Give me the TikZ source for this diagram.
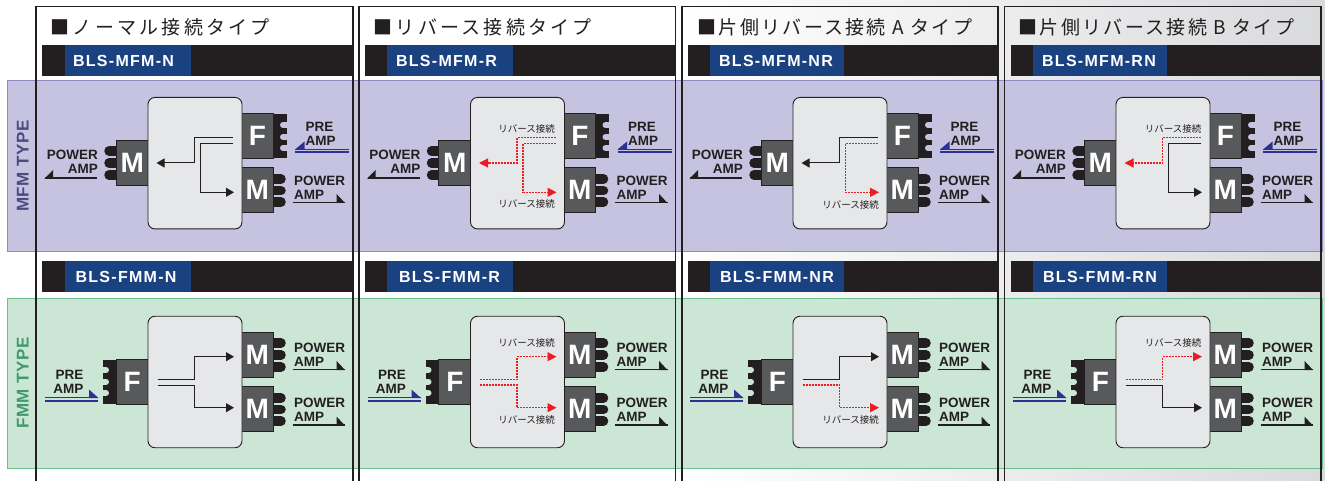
\documentclass[tikz,border=0pt]{standalone}
\usepackage{fontspec}
\setmainfont{Liberation Sans}
\newfontfamily\hdrA[LetterSpace=17]{Noto Sans CJK JP}
\newfontfamily\hdrB[LetterSpace=12]{Noto Sans CJK JP}
\newfontfamily\cjklab{Noto Sans CJK JP}
\newfontfamily\sidefont[LetterSpace=4]{Liberation Sans}
\newfontfamily\tagfont[LetterSpace=8]{Liberation Sans}
\usetikzlibrary{arrows.meta}
\definecolor{ink}{HTML}{231F20}
\definecolor{tagblue}{HTML}{1A4180}
\definecolor{purpleband}{HTML}{C6C3E1}
\definecolor{purpleedge}{HTML}{9089C3}
\definecolor{purpletext}{HTML}{4B4A82}
\definecolor{greenband}{HTML}{CBE6D5}
\definecolor{greenedge}{HTML}{6DBE8E}
\definecolor{greentext}{HTML}{3F9B6D}
\definecolor{portgrey}{HTML}{58595B}
\definecolor{bodygrey}{HTML}{E6E7E9}
\definecolor{revred}{HTML}{ED1C24}
\definecolor{preblue}{HTML}{2E3192}
\definecolor{shadeend}{HTML}{D9DADC}
\tikzset{
  bodybox/.style={draw=ink,fill=bodygrey,line width=0.9pt,rounded corners=7pt,minimum width=94pt,minimum height=131.5pt,inner sep=0pt},
  portbox/.style={draw=ink,fill=portgrey,line width=0.9pt,minimum width=32pt,minimum height=45pt,inner sep=0pt,text=white,font=\fontsize{28}{28}\selectfont\bfseries},
  amptext/.style={inner sep=0pt,text=ink,font=\fontsize{13.5}{13.5}\selectfont\bfseries},
  revlabel/.style={inner sep=0pt,anchor=east,text=ink,font=\cjklab\fontsize{9.5}{9.5}\selectfont},
  blackline/.style={draw=ink,line width=1pt,-{Triangle[length=8pt,width=9pt]}},
  redline/.style={draw=revred,line width=1.2pt,dash pattern=on 2pt off 1pt,-{Triangle[length=9pt,width=9pt,fill=revred]}},
  pill/.style={line width=9.5pt,line cap=round,draw=ink},
  notch/.style={line width=6pt,line cap=round},
  barbox/.style={fill=ink,draw=none,minimum height=31pt,inner sep=0pt,anchor=west},
  tagbox/.style={fill=tagblue,draw=none,minimum height=31pt,inner sep=0pt,text=white,font=\tagfont\fontsize{16}{16}\selectfont\bfseries},
  framebox/.style={draw=ink,line width=1.1pt},
  hdr/.style={inner sep=0pt,anchor=west,text=ink},
  sidetext/.style={inner sep=0pt,rotate=90,font=\sidefont\fontsize{17}{17}\selectfont\bfseries}
}
\newcommand{\ampright}[2]{% name, rule y
  \node[amptext,anchor=base west] (#1p) at (294,#2-17.3) {POWER};
  \node[amptext,anchor=base west] (#1a) at (294,#2-3.2) {AMP};
  \coordinate (#1l) at (292.5,#2);
  \coordinate (#1r) at (345,#2);
  \draw[ink,line width=1.3pt] (#1l) -- (#1r);
  \fill[ink] (345,#2+0.6) -- (336.5,#2+0.6) -- (336.5,#2-8.5) -- cycle;
}
\newcommand{\mfmunit}[6]{% prefix, x offset, upper line style, lower line style, upper label, lower label
\begin{scope}[xshift=#2pt]
  \foreach \yy in {151,163,175} {\draw[pill] (109,\yy) -- (116,\yy);}
  \foreach \yy in {179,190.7,202} {\draw[pill] (273,\yy) -- (281,\yy);}
  \fill[ink] (273,114) rectangle (286.7,158);
  \foreach \yy in {125,137,148} {\draw[notch,purpleband] (283,\yy) -- (288,\yy);}
  \fill[purpleband] (286.9,113) rectangle (291,159);
  \node[portbox] (#1ml) at (132.3,162.8) {M};
  \node[portbox] (#1f) at (257.3,135.8) {F};
  \node[portbox] (#1mr) at (257.3,190) {M};
  \node[bodybox] (#1b) at (195,163.2) {};
  \coordinate (#1s1) at (233,137.5);
  \coordinate (#1j1) at (194.5,137.5);
  \coordinate (#1k1) at (194.5,163);
  \coordinate (#1e1) at (156.5,163);
  \coordinate (#1s2) at (233,143.3);
  \coordinate (#1j2) at (200.5,143.3);
  \coordinate (#1k2) at (200.5,192.3);
  \coordinate (#1e2) at (234,192.3);
  \draw[#3] (#1s1) -- (#1j1) -- (#1k1) -- (#1e1);
  \draw[#4] (#1s2) -- (#1j2) -- (#1k2) -- (#1e2);
  #5 #6
  \node[amptext,anchor=base east] (#1pl) at (98,160) {POWER};
  \node[amptext,anchor=base east] (#1al) at (98,174) {AMP};
  \coordinate (#1ll) at (97,178);
  \coordinate (#1lr) at (45,178);
  \draw[ink,line width=1.3pt] (#1ll) -- (#1lr);
  \fill[ink] (44.5,178.6) -- (53,178.6) -- (53,170) -- cycle;
  \node[amptext,anchor=base west] (#1pp) at (305.5,132) {PRE};
  \node[amptext,anchor=base west] (#1ap) at (305.5,146) {AMP};
  \coordinate (#1pa) at (295,149);
  \coordinate (#1pb) at (349,149);
  \coordinate (#1pc) at (295,152);
  \coordinate (#1pd) at (349,152);
  \draw[preblue,line width=0.9pt] (#1pa) -- (#1pb);
  \draw[preblue,line width=1.6pt] (#1pc) -- (#1pd);
  \fill[preblue] (295,149.5) -- (304.5,149.5) -- (304.5,141.5) -- cycle;
  \ampright{#1x}{202.4}
\end{scope}}
\newcommand{\fmmunit}[6]{% prefix, x offset, upper line style, lower line style, upper label, lower label
\begin{scope}[xshift=#2pt]
  \foreach \yy in {343,355,367,398,409.5,421} {\draw[pill] (273,\yy) -- (281,\yy);}
  \fill[ink] (103,360) rectangle (116,404);
  \foreach \yy in {370,381.7,393} {\draw[notch,greenband] (106,\yy) -- (101,\yy);}
  \fill[greenband] (99,359) rectangle (102.8,405);
  \node[portbox] (#1fl) at (132.3,382) {F};
  \node[portbox] (#1mt) at (257.3,354.5) {M};
  \node[portbox] (#1mb) at (257.3,409) {M};
  \node[bodybox] (#1b) at (195,382) {};
  \coordinate (#1s1) at (157.5,379.5);
  \coordinate (#1k1) at (194.5,379.5);
  \coordinate (#1j1) at (194.5,356.7);
  \coordinate (#1e1) at (234,356.7);
  \coordinate (#1s2) at (157.5,385);
  \coordinate (#1k2) at (194.5,385);
  \coordinate (#1j2) at (194.5,407.7);
  \coordinate (#1e2) at (234,407.7);
  \draw[#3] (#1s1) -- (#1k1) -- (#1j1) -- (#1e1);
  \draw[#4] (#1s2) -- (#1k2) -- (#1j2) -- (#1e2);
  #5 #6
  \node[amptext,anchor=base east] (#1pp) at (83.5,379) {PRE};
  \node[amptext,anchor=base east] (#1ap) at (83.5,393) {AMP};
  \coordinate (#1pa) at (45,397.6);
  \coordinate (#1pb) at (98,397.6);
  \coordinate (#1pc) at (45,401);
  \coordinate (#1pd) at (98,401);
  \draw[preblue,line width=0.9pt] (#1pa) -- (#1pb);
  \draw[preblue,line width=1.6pt] (#1pc) -- (#1pd);
  \fill[preblue] (98.5,398) -- (89,398) -- (89,389.5) -- cycle;
  \ampright{#1x}{369.4}
  \ampright{#1y}{425}
\end{scope}}
\newcommand{\barrow}[5]{% prefix, bar x, bar width, tag x-centre, text
  \node[barbox,minimum width=#3pt] (#1bar) at (#2,\rowy) {};
  \node[tagbox,minimum width=\tagw pt] (#1tag) at (#4,\rowy) {#5};
}
\begin{document}
\begin{tikzpicture}[x=1pt,y=-1pt]
\useasboundingbox (0,0) rectangle (1325,481);
\shade[left color=white,right color=shadeend] (682,0) rectangle (1325,481);
% coloured bands
\node[draw=purpleedge,fill=purpleband,line width=1.1pt,minimum width=1314.5pt,minimum height=171pt,inner sep=0pt,anchor=north west] (bandm) at (7,79.7) {};
\node[draw=greenedge,fill=greenband,line width=1.1pt,minimum width=1314.5pt,minimum height=170pt,inner sep=0pt,anchor=north west] (bandf) at (7,297.5) {};
\node[sidetext,text=purpletext] (sidem) at (22.7,166) {MFM TYPE};
\node[sidetext,text=greentext] (sidef) at (22.7,383) {FMM TYPE};
% name bars
\def\rowy{60.5}
\def\tagw{126}
\barrow{a}{42}{311}{128}{BLS-MFM-N\hspace*{9pt}}
\barrow{b}{365}{311}{450}{BLS-MFM-R\hspace*{7pt}}
\def\tagw{134}
\barrow{c}{688}{310}{777}{BLS-MFM-NR\hspace*{2pt}}
\barrow{d}{1011}{310}{1100}{BLS-MFM-RN\hspace*{2pt}}
\def\rowy{276.5}
\def\tagw{126}
\barrow{e}{42}{311}{128}{BLS-FMM-N\hspace*{4pt}}
\barrow{f}{365}{311}{450}{BLS-FMM-R\hspace*{1pt}}
\def\tagw{134}
\barrow{g}{688}{310}{777}{BLS-FMM-NR}
\barrow{h}{1011}{310}{1100}{BLS-FMM-RN}
% column frames
\draw[framebox] (36,481) -- (36,6.5) -- (353,6.5) -- (353,481);
\draw[framebox] (359,481) -- (359,6.5) -- (675.5,6.5) -- (675.5,481);
\draw[framebox] (682,481) -- (682,6.5) -- (998,6.5) -- (998,481);
\draw[framebox] (1004.5,481) -- (1004.5,6.5) -- (1321,6.5) -- (1321,481);
% headers
\node[hdr] (ha) at (50.5,27) {\hdrA\fontsize{19}{19}\selectfont ■ノーマル接続タイプ};
\node[hdr] (hb) at (373.5,27) {\hdrA\fontsize{19}{19}\selectfont ■リバース接続タイプ};
\node[hdr] (hc) at (697.5,27) {\hdrB\fontsize{19}{19}\selectfont ■片側リバース接続 A タイプ};
\node[hdr] (hd) at (1018.5,27) {\hdrB\fontsize{19}{19}\selectfont ■片側リバース接続 B タイプ};
% units
\mfmunit{ua}{0}{blackline}{blackline}{}{}
\mfmunit{ub}{322.5}{redline}{redline}{\node[revlabel] (ubl1) at (232.5,128.5) {リバース接続};}{\node[revlabel] (ubl2) at (232.5,204) {リバース接続};}
\mfmunit{uc}{645}{blackline}{redline}{}{\node[revlabel] (ucl2) at (234,205) {リバース接続};}
\mfmunit{ud}{968}{redline}{blackline}{\node[revlabel] (udl1) at (233.5,128.5) {リバース接続};}{}
\fmmunit{va}{0}{blackline}{blackline}{}{}
\fmmunit{vb}{322.5}{redline}{redline}{\node[revlabel] (vbl1) at (232.5,343) {リバース接続};}{\node[revlabel] (vbl2) at (232.5,419.5) {リバース接続};}
\fmmunit{vc}{645}{blackline}{redline}{}{\node[revlabel] (vcl2) at (234,420) {リバース接続};}
\fmmunit{vd}{968}{redline}{blackline}{\node[revlabel] (vdl1) at (233.5,343) {リバース接続};}{}
\end{tikzpicture}
\end{document}
